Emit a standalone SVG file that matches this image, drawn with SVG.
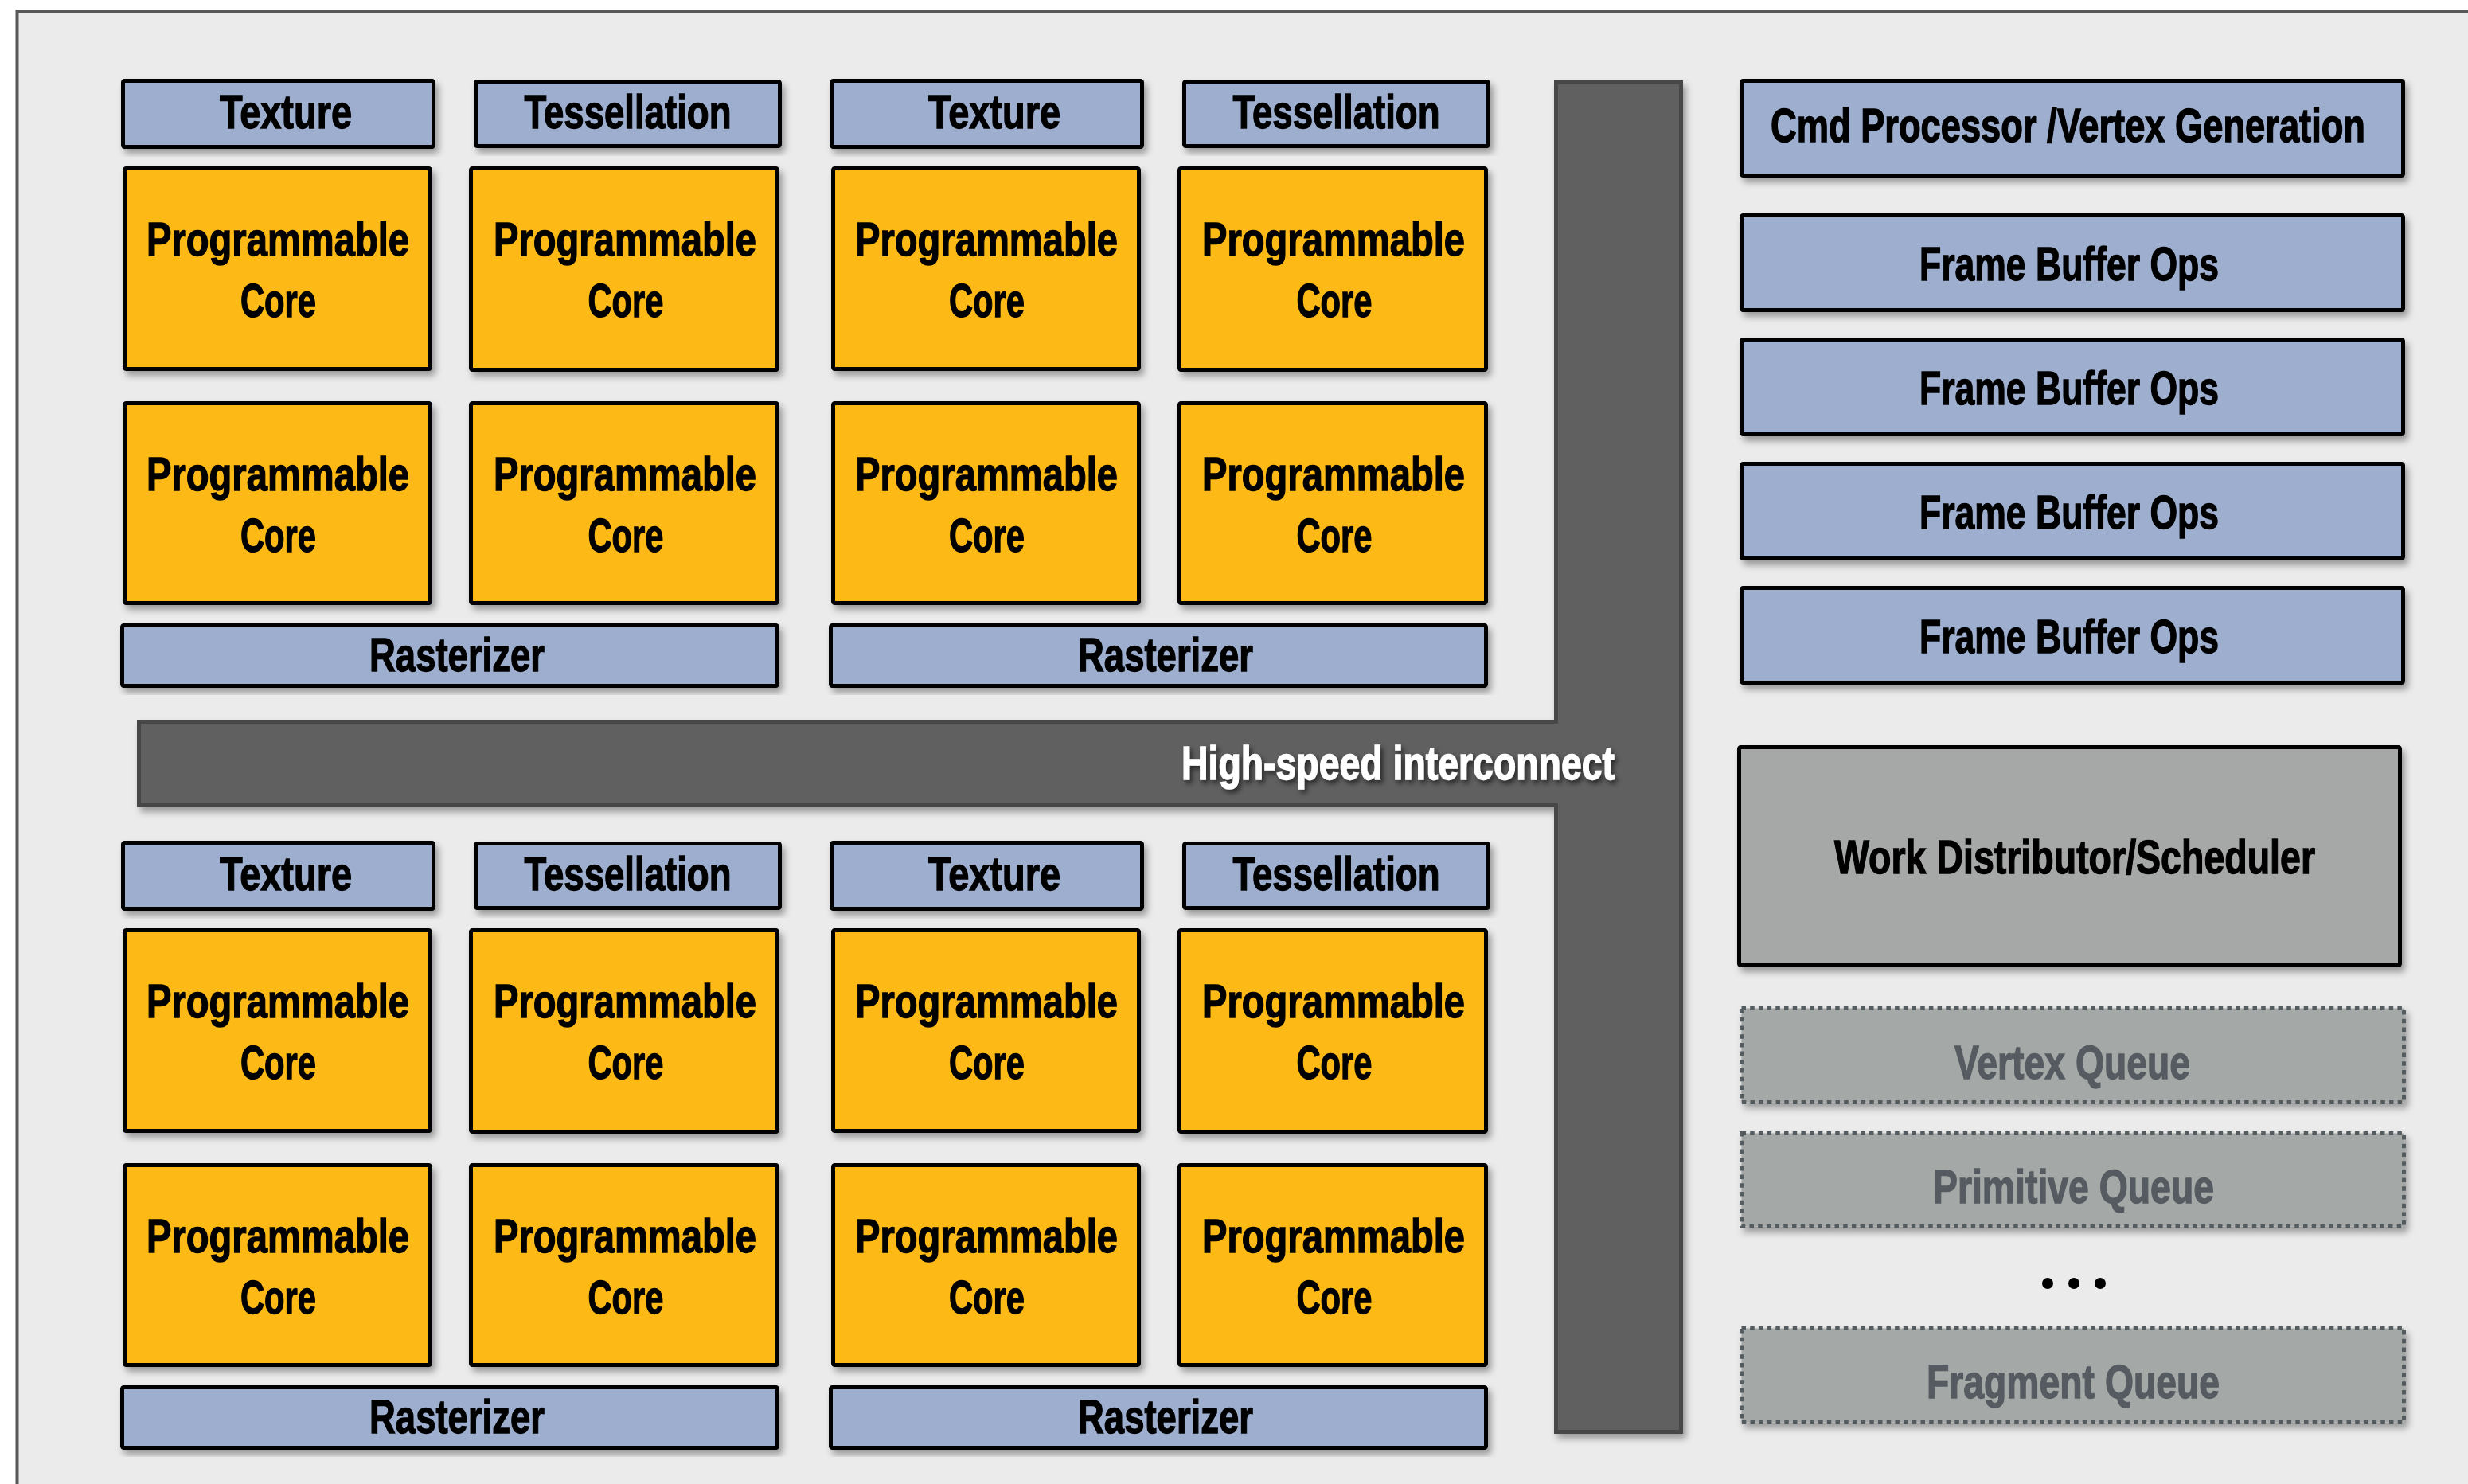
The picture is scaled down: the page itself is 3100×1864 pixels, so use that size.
<svg xmlns="http://www.w3.org/2000/svg" width="3100" height="1864" viewBox="0 0 3100 1864">
  <defs>
    <filter id="shadow" x="-5%" y="-5%" width="115%" height="120%">
      <feDropShadow dx="4" dy="6" stdDeviation="4" flood-color="#000" flood-opacity="0.35"/>
    </filter>
    <filter id="textShadow" x="-5%" y="-20%" width="115%" height="150%">
      <feDropShadow dx="3" dy="4" stdDeviation="3" flood-color="#000" flood-opacity="0.6"/>
    </filter>
    <style>
      .blue { fill: #9daecf; stroke: #000; stroke-width: 5; }
      .core { fill: #fdb918; stroke: #000; stroke-width: 5; }
      .sched { fill: #a5a8a6; stroke: #000; stroke-width: 5; }
      .queue { fill: #a4a8a6; stroke: #555b61; stroke-width: 5; stroke-dasharray: 5.5 5.2; }
      .bus { fill: #606060; stroke: #474747; stroke-width: 5; }
      .lbl { font-family: "Liberation Sans", Arial, sans-serif; font-weight: bold; font-size: 60px; fill: #000; stroke: #000; stroke-width: 1.4; text-anchor: middle; }
      .qlbl { fill: #555b61; stroke: #555b61; }
      .wlbl { fill: #fff; stroke: #fff; }
      .box { filter: url(#shadow); }
    </style>
  </defs>

  <!-- page and outer frame -->
  <rect x="0" y="0" width="3100" height="1864" fill="#fff"/>
  <rect x="21.5" y="14" width="3200" height="2000" fill="#ebebeb" stroke="#585858" stroke-width="4"/>

  <!-- cluster 1 (top left) -->
  <g id="cluster-1">
    <g id="c1-texture">
      <rect class="blue box" x="154.5" y="101.5" width="390" height="83" rx="2"/>
      <text class="lbl" x="359" y="161" textLength="166" lengthAdjust="spacingAndGlyphs">Texture</text>
    </g>
    <g id="c1-tessellation">
      <rect class="blue box" x="597.5" y="102.5" width="382" height="81" rx="2"/>
      <text class="lbl" x="788.5" y="161" textLength="260" lengthAdjust="spacingAndGlyphs">Tessellation</text>
    </g>
    <g id="c1-core-1">
      <rect class="core box" x="156.5" y="211.5" width="384" height="252" rx="2"/>
      <text class="lbl" x="349" y="321" textLength="330" lengthAdjust="spacingAndGlyphs">Programmable</text>
      <text class="lbl" x="349.5" y="398" textLength="95" lengthAdjust="spacingAndGlyphs">Core</text>
    </g>
    <g id="c1-core-2">
      <rect class="core box" x="591.5" y="211.5" width="385" height="253" rx="2"/>
      <text class="lbl" x="785" y="321" textLength="330" lengthAdjust="spacingAndGlyphs">Programmable</text>
      <text class="lbl" x="786" y="398" textLength="95" lengthAdjust="spacingAndGlyphs">Core</text>
    </g>
    <g id="c1-core-3">
      <rect class="core box" x="156.5" y="506.5" width="384" height="251" rx="2"/>
      <text class="lbl" x="349" y="616" textLength="330" lengthAdjust="spacingAndGlyphs">Programmable</text>
      <text class="lbl" x="349.5" y="693" textLength="95" lengthAdjust="spacingAndGlyphs">Core</text>
    </g>
    <g id="c1-core-4">
      <rect class="core box" x="591.5" y="506.5" width="385" height="251" rx="2"/>
      <text class="lbl" x="785" y="616" textLength="330" lengthAdjust="spacingAndGlyphs">Programmable</text>
      <text class="lbl" x="786" y="693" textLength="95" lengthAdjust="spacingAndGlyphs">Core</text>
    </g>
    <g id="c1-rasterizer">
      <rect class="blue box" x="153.5" y="785.5" width="823" height="76" rx="2"/>
      <text class="lbl" x="574" y="843" textLength="220" lengthAdjust="spacingAndGlyphs">Rasterizer</text>
    </g>
  </g>

  <!-- cluster 2 (top right) -->
  <g id="cluster-2" transform="translate(890,0)">
    <g id="c2-texture">
      <rect class="blue box" x="154.5" y="101.5" width="390" height="83" rx="2"/>
      <text class="lbl" x="359" y="161" textLength="166" lengthAdjust="spacingAndGlyphs">Texture</text>
    </g>
    <g id="c2-tessellation">
      <rect class="blue box" x="597.5" y="102.5" width="382" height="81" rx="2"/>
      <text class="lbl" x="788.5" y="161" textLength="260" lengthAdjust="spacingAndGlyphs">Tessellation</text>
    </g>
    <g id="c2-core-1">
      <rect class="core box" x="156.5" y="211.5" width="384" height="252" rx="2"/>
      <text class="lbl" x="349" y="321" textLength="330" lengthAdjust="spacingAndGlyphs">Programmable</text>
      <text class="lbl" x="349.5" y="398" textLength="95" lengthAdjust="spacingAndGlyphs">Core</text>
    </g>
    <g id="c2-core-2">
      <rect class="core box" x="591.5" y="211.5" width="385" height="253" rx="2"/>
      <text class="lbl" x="785" y="321" textLength="330" lengthAdjust="spacingAndGlyphs">Programmable</text>
      <text class="lbl" x="786" y="398" textLength="95" lengthAdjust="spacingAndGlyphs">Core</text>
    </g>
    <g id="c2-core-3">
      <rect class="core box" x="156.5" y="506.5" width="384" height="251" rx="2"/>
      <text class="lbl" x="349" y="616" textLength="330" lengthAdjust="spacingAndGlyphs">Programmable</text>
      <text class="lbl" x="349.5" y="693" textLength="95" lengthAdjust="spacingAndGlyphs">Core</text>
    </g>
    <g id="c2-core-4">
      <rect class="core box" x="591.5" y="506.5" width="385" height="251" rx="2"/>
      <text class="lbl" x="785" y="616" textLength="330" lengthAdjust="spacingAndGlyphs">Programmable</text>
      <text class="lbl" x="786" y="693" textLength="95" lengthAdjust="spacingAndGlyphs">Core</text>
    </g>
    <g id="c2-rasterizer">
      <rect class="blue box" x="153.5" y="785.5" width="823" height="76" rx="2"/>
      <text class="lbl" x="574" y="843" textLength="220" lengthAdjust="spacingAndGlyphs">Rasterizer</text>
    </g>
  </g>

  <!-- cluster 3 (bottom left) -->
  <g id="cluster-3" transform="translate(0,957)">
    <g id="c3-texture">
      <rect class="blue box" x="154.5" y="101.5" width="390" height="83" rx="2"/>
      <text class="lbl" x="359" y="161" textLength="166" lengthAdjust="spacingAndGlyphs">Texture</text>
    </g>
    <g id="c3-tessellation">
      <rect class="blue box" x="597.5" y="102.5" width="382" height="81" rx="2"/>
      <text class="lbl" x="788.5" y="161" textLength="260" lengthAdjust="spacingAndGlyphs">Tessellation</text>
    </g>
    <g id="c3-core-1">
      <rect class="core box" x="156.5" y="211.5" width="384" height="252" rx="2"/>
      <text class="lbl" x="349" y="321" textLength="330" lengthAdjust="spacingAndGlyphs">Programmable</text>
      <text class="lbl" x="349.5" y="398" textLength="95" lengthAdjust="spacingAndGlyphs">Core</text>
    </g>
    <g id="c3-core-2">
      <rect class="core box" x="591.5" y="211.5" width="385" height="253" rx="2"/>
      <text class="lbl" x="785" y="321" textLength="330" lengthAdjust="spacingAndGlyphs">Programmable</text>
      <text class="lbl" x="786" y="398" textLength="95" lengthAdjust="spacingAndGlyphs">Core</text>
    </g>
    <g id="c3-core-3">
      <rect class="core box" x="156.5" y="506.5" width="384" height="251" rx="2"/>
      <text class="lbl" x="349" y="616" textLength="330" lengthAdjust="spacingAndGlyphs">Programmable</text>
      <text class="lbl" x="349.5" y="693" textLength="95" lengthAdjust="spacingAndGlyphs">Core</text>
    </g>
    <g id="c3-core-4">
      <rect class="core box" x="591.5" y="506.5" width="385" height="251" rx="2"/>
      <text class="lbl" x="785" y="616" textLength="330" lengthAdjust="spacingAndGlyphs">Programmable</text>
      <text class="lbl" x="786" y="693" textLength="95" lengthAdjust="spacingAndGlyphs">Core</text>
    </g>
    <g id="c3-rasterizer">
      <rect class="blue box" x="153.5" y="785.5" width="823" height="76" rx="2"/>
      <text class="lbl" x="574" y="843" textLength="220" lengthAdjust="spacingAndGlyphs">Rasterizer</text>
    </g>
  </g>

  <!-- cluster 4 (bottom right) -->
  <g id="cluster-4" transform="translate(890,957)">
    <g id="c4-texture">
      <rect class="blue box" x="154.5" y="101.5" width="390" height="83" rx="2"/>
      <text class="lbl" x="359" y="161" textLength="166" lengthAdjust="spacingAndGlyphs">Texture</text>
    </g>
    <g id="c4-tessellation">
      <rect class="blue box" x="597.5" y="102.5" width="382" height="81" rx="2"/>
      <text class="lbl" x="788.5" y="161" textLength="260" lengthAdjust="spacingAndGlyphs">Tessellation</text>
    </g>
    <g id="c4-core-1">
      <rect class="core box" x="156.5" y="211.5" width="384" height="252" rx="2"/>
      <text class="lbl" x="349" y="321" textLength="330" lengthAdjust="spacingAndGlyphs">Programmable</text>
      <text class="lbl" x="349.5" y="398" textLength="95" lengthAdjust="spacingAndGlyphs">Core</text>
    </g>
    <g id="c4-core-2">
      <rect class="core box" x="591.5" y="211.5" width="385" height="253" rx="2"/>
      <text class="lbl" x="785" y="321" textLength="330" lengthAdjust="spacingAndGlyphs">Programmable</text>
      <text class="lbl" x="786" y="398" textLength="95" lengthAdjust="spacingAndGlyphs">Core</text>
    </g>
    <g id="c4-core-3">
      <rect class="core box" x="156.5" y="506.5" width="384" height="251" rx="2"/>
      <text class="lbl" x="349" y="616" textLength="330" lengthAdjust="spacingAndGlyphs">Programmable</text>
      <text class="lbl" x="349.5" y="693" textLength="95" lengthAdjust="spacingAndGlyphs">Core</text>
    </g>
    <g id="c4-core-4">
      <rect class="core box" x="591.5" y="506.5" width="385" height="251" rx="2"/>
      <text class="lbl" x="785" y="616" textLength="330" lengthAdjust="spacingAndGlyphs">Programmable</text>
      <text class="lbl" x="786" y="693" textLength="95" lengthAdjust="spacingAndGlyphs">Core</text>
    </g>
    <g id="c4-rasterizer">
      <rect class="blue box" x="153.5" y="785.5" width="823" height="76" rx="2"/>
      <text class="lbl" x="574" y="843" textLength="220" lengthAdjust="spacingAndGlyphs">Rasterizer</text>
    </g>
  </g>

  <!-- T-shaped interconnect -->
  <g id="interconnect">
    <path class="bus" filter="url(#shadow)" d="M174.5,906.5 H1954.5 V103.5 H2111.5 V1798.5 H1954.5 V1011.5 H174.5 Z"/>
    <text class="lbl wlbl" filter="url(#textShadow)" x="1756" y="979" textLength="544" lengthAdjust="spacingAndGlyphs">High-speed interconnect</text>
  </g>

  <!-- fixed-function units -->
  <g id="cmd-processor">
    <rect class="blue box" x="2187.5" y="101.5" width="831" height="119" rx="2"/>
    <!-- long label: smaller face, stretched vertically to the common cap height -->
    <text class="lbl" transform="scale(1,1.25)" style="font-size:48px; stroke-width:1.2" x="2597.5" y="142.4" textLength="747" lengthAdjust="spacingAndGlyphs">Cmd Processor /Vertex Generation</text>
  </g>
  <g id="fbo-1">
    <rect class="blue box" x="2187.5" y="270.5" width="831" height="119" rx="2"/>
    <text class="lbl" x="2599" y="352" textLength="376" lengthAdjust="spacingAndGlyphs">Frame Buffer Ops</text>
  </g>
  <g id="fbo-2">
    <rect class="blue box" x="2187.5" y="426.5" width="831" height="119" rx="2"/>
    <text class="lbl" x="2599" y="508" textLength="376" lengthAdjust="spacingAndGlyphs">Frame Buffer Ops</text>
  </g>
  <g id="fbo-3">
    <rect class="blue box" x="2187.5" y="582.5" width="831" height="119" rx="2"/>
    <text class="lbl" x="2599" y="664" textLength="376" lengthAdjust="spacingAndGlyphs">Frame Buffer Ops</text>
  </g>
  <g id="fbo-4">
    <rect class="blue box" x="2187.5" y="738.5" width="831" height="119" rx="2"/>
    <text class="lbl" x="2599" y="820" textLength="376" lengthAdjust="spacingAndGlyphs">Frame Buffer Ops</text>
  </g>

  <g id="scheduler">
    <rect class="sched box" x="2184.5" y="938.5" width="830" height="274" rx="2"/>
    <text class="lbl" x="2606" y="1097" textLength="604" lengthAdjust="spacingAndGlyphs">Work Distributor/Scheduler</text>
  </g>

  <!-- work queues -->
  <g id="vertex-queue">
    <rect class="queue box" x="2187.5" y="1266.5" width="832" height="118"/>
    <text class="lbl qlbl" x="2603" y="1355" textLength="296" lengthAdjust="spacingAndGlyphs">Vertex Queue</text>
  </g>
  <g id="primitive-queue">
    <rect class="queue box" x="2187.5" y="1423.5" width="832" height="117"/>
    <text class="lbl qlbl" x="2604.5" y="1511" textLength="353" lengthAdjust="spacingAndGlyphs">Primitive Queue</text>
  </g>
  <g id="ellipsis">
    <circle cx="2572" cy="1612" r="7" fill="#000"/>
    <circle cx="2605" cy="1612" r="7" fill="#000"/>
    <circle cx="2638" cy="1612" r="7" fill="#000"/>
  </g>
  <g id="fragment-queue">
    <rect class="queue box" x="2187.5" y="1668.5" width="832" height="118"/>
    <text class="lbl qlbl" x="2604" y="1756" textLength="368" lengthAdjust="spacingAndGlyphs">Fragment Queue</text>
  </g>

  <g id="connectors"/>
</svg>
